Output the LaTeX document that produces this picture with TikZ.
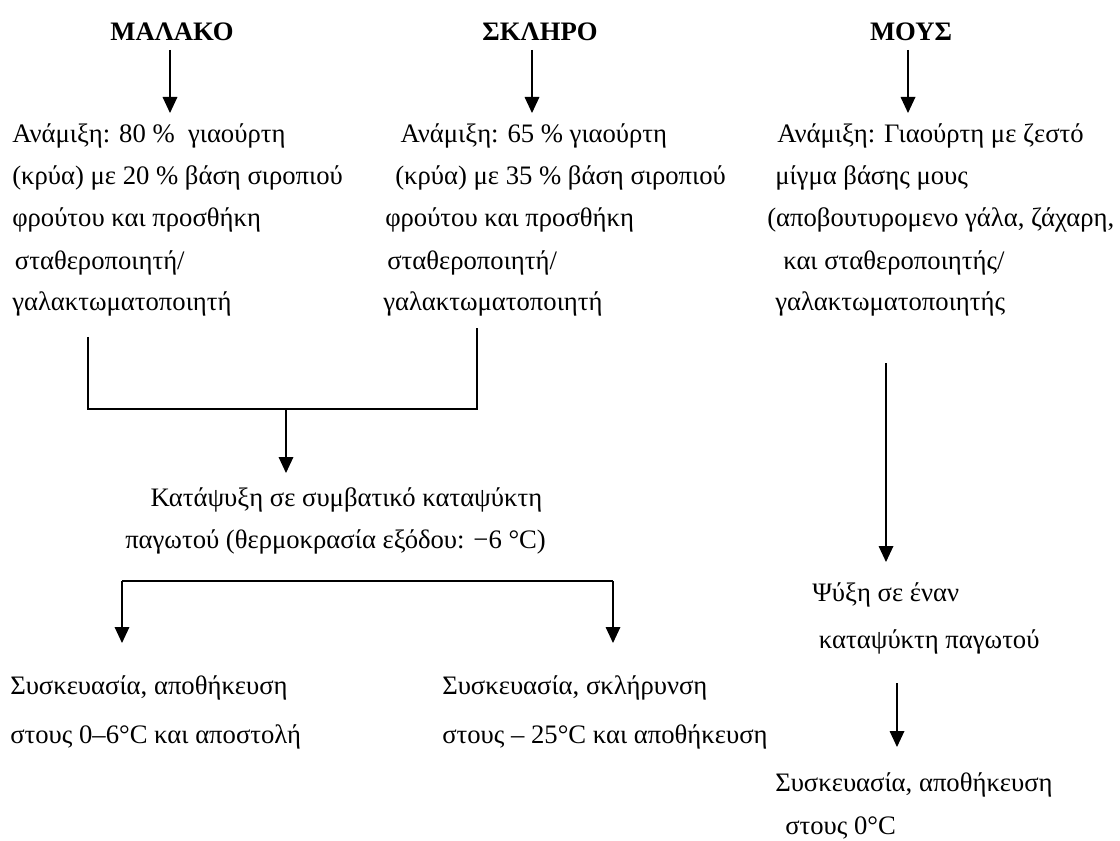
\documentclass[tikz,border=0pt]{standalone}
\usepackage{fontspec}
\setmainfont{Liberation Serif}
\usepackage{tikz}
\usetikzlibrary{arrows.meta}
\tikzset{
  head/.style={font=\fontsize{20}{24}\selectfont\bfseries, inner sep=0pt},
  stage/.style={font=\fontsize{20}{31.5}\selectfont, align=left, inner sep=0pt, anchor=base west},
  link/.style={line width=0.9pt},
  arr/.style={link, -{Triangle[width=11pt,length=12pt]}},
}
\newcommand{\ind}[1]{\hspace*{#1pt}}

\begin{document}
\begin{tikzpicture}[x=0.75pt,y=-0.75pt]
  \useasboundingbox (0,0) rectangle (1120,841);

  % column heads
  \node [head] (malako) at (172,32) {ΜΑΛΑΚΟ};
  \node [head] (skliro) at (540,32) {ΣΚΛΗΡΟ};
  \node [head] (mous) at (911,32) {ΜΟΥΣ};

  % mixing steps (placed by the baseline of their last line)
  \node [stage] (mix1) at (12,311) {Ανάμιξη: 80 \% \ γιαούρτη\\
    (κρύα) με 20 \% βάση σιροπιού\\
    φρούτου και προσθήκη\\
    \ind{2}σταθεροποιητή/\\
    γαλακτωματοποιητή};
  \node [stage] (mix2) at (383,311) {\ind{13}Ανάμιξη: 65 \% γιαούρτη\\
    \ind{9}(κρύα) με 35 \% βάση σιροπιού\\
    \ind{1.5}φρούτου και προσθήκη\\
    \ind{3}σταθεροποιητή/\\
    γαλακτωματοποιητή};
  \node [stage] (mix3) at (767,311) {\ind{7.5}Ανάμιξη: Γιαούρτη με ζεστό\\
    \ind{6}μίγμα βάσης μους\\
    (αποβουτυρομενο γάλα, ζάχαρη,\\
    \ind{12}και σταθεροποιητής/\\
    \ind{6}γαλακτωματοποιητής};

  % freezing and the rest
  \node [stage] (freeze) at (125,548) {\ind{19}Κατάψυξη σε συμβατικό καταψύκτη\\
    παγωτού (θερμοκρασία εξόδου: −6 °C)};
  \node [stage, font=\fontsize{20}{36.75}\selectfont] (pack1) at (10,743) {Συσκευασία, αποθήκευση\\
    στους 0–6°C και αποστολή};
  \node [stage, font=\fontsize{20}{36.75}\selectfont] (pack2) at (442,743) {Συσκευασία, σκλήρυνση\\
    στους – 25°C και αποθήκευση};
  \node [stage, font=\fontsize{20}{35}\selectfont] (cool) at (812,648) {Ψύξη σε έναν\\
    \ind{5}καταψύκτη παγωτού};
  \node [stage, font=\fontsize{20}{32}\selectfont] (pack3) at (775,834) {Συσκευασία, αποθήκευση\\
    \ind{7.5}στους 0°C};

  % where the lines start and join
  \coordinate (h1) at (170,50);
  \coordinate (h2) at (532,50);
  \coordinate (h3) at (908,50);
  \coordinate (joinL) at (88,409);
  \coordinate (joinR) at (477,409);
  \coordinate (joinM) at (286,409);
  \coordinate (tipM) at (286,473);
  \coordinate (splitL) at (122,581);
  \coordinate (splitR) at (613,581);
  \coordinate (tipL) at (122,643);
  \coordinate (tipR) at (613,643);
  \coordinate (down3) at (886,363);
  \coordinate (tip3) at (886,562);
  \coordinate (down4) at (897,683);
  \coordinate (tip4) at (897,747);

  % heads to mixing
  \draw [arr] (h1) -- (h1 |- 0,113);
  \draw [arr] (h2) -- (h2 |- 0,113);
  \draw [arr] (h3) -- (h3 |- 0,113);

  % soft and hard go to the freezer
  \draw [link] (joinL |- 0,337) -- (joinL) -- (joinR) -- (joinR |- 0,328);
  \draw [arr] (joinM) -- (tipM);
  \draw [link] (splitL) -- (splitR);
  \draw [arr] (splitL) -- (tipL);
  \draw [arr] (splitR) -- (tipR);

  % mousse
  \draw [arr] (down3) -- (tip3);
  \draw [arr] (down4) -- (tip4);
\end{tikzpicture}
\end{document}
